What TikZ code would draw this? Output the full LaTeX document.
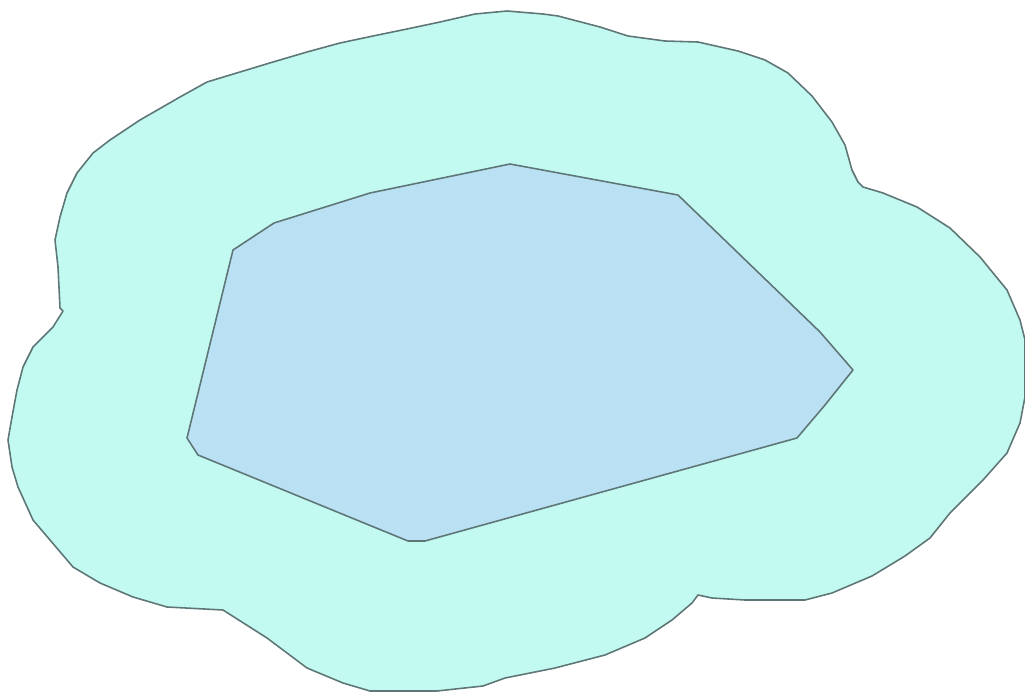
\documentclass[tikz,border=0pt]{standalone}
\begin{document}
\begin{tikzpicture}[x=0.02cm,y=-0.02cm,
  edge/.style={draw=linecol,line width=0.9pt,line join=round},
  outerzone/.style={edge,fill=outerfill},
  innerzone/.style={edge,fill=innerfill}]
\definecolor{outerfill}{HTML}{C2FAF2}
\definecolor{innerfill}{HTML}{BAE0F3}
\definecolor{linecol}{HTML}{5E7676}
\useasboundingbox (0,0) rectangle (1025,693);
% outer buffer
\draw[outerzone] (507,11) -- (543,14) -- (558,16) -- (600,27) -- (628,36) -- (665,41) -- (698,42) -- (738,51) -- (765,60) -- (788,73) -- (812,96) -- (832,122) -- (845,145) -- (852,170) -- (858,182) -- (863,187) -- (883,193) -- (917,207) -- (950,228) -- (980,257) -- (1007,290) -- (1020,320) -- (1025,340) -- (1025,397) -- (1020,423) -- (1007,453) -- (983,480) -- (950,513) -- (930,538) -- (905,556) -- (872,576) -- (832,593) -- (805,600) -- (745,600) -- (712,598) -- (698,595) -- (692,603) -- (672,620) -- (645,638) -- (605,655) -- (555,668) -- (505,678) -- (483,686) -- (437,691) -- (370,691) -- (343,683) -- (307,668) -- (267,638) -- (223,610) -- (167,607) -- (133,597) -- (100,583) -- (73,567) -- (50,540) -- (33,520) -- (18,487) -- (12,467) -- (8,440) -- (12,417) -- (17,390) -- (23,367) -- (33,347) -- (53,327) -- (63,311) -- (60,308) -- (58,267) -- (55,240) -- (60,217) -- (67,193) -- (77,173) -- (93,153) -- (110,140) -- (140,120) -- (180,97) -- (207,82) -- (240,72) -- (273,62) -- (307,52) -- (340,43) -- (373,36) -- (407,29) -- (440,22) -- (475,14) -- cycle;
% inner polygon
\draw[innerzone] (510,164) -- (678,195) -- (820,332) -- (853,370) -- (825,405) -- (797,438) -- (425,541) -- (408,541) -- (198,455) -- (187,438) -- (233,250) -- (274,223) -- (370,193) -- cycle;
\end{tikzpicture}
\end{document}
